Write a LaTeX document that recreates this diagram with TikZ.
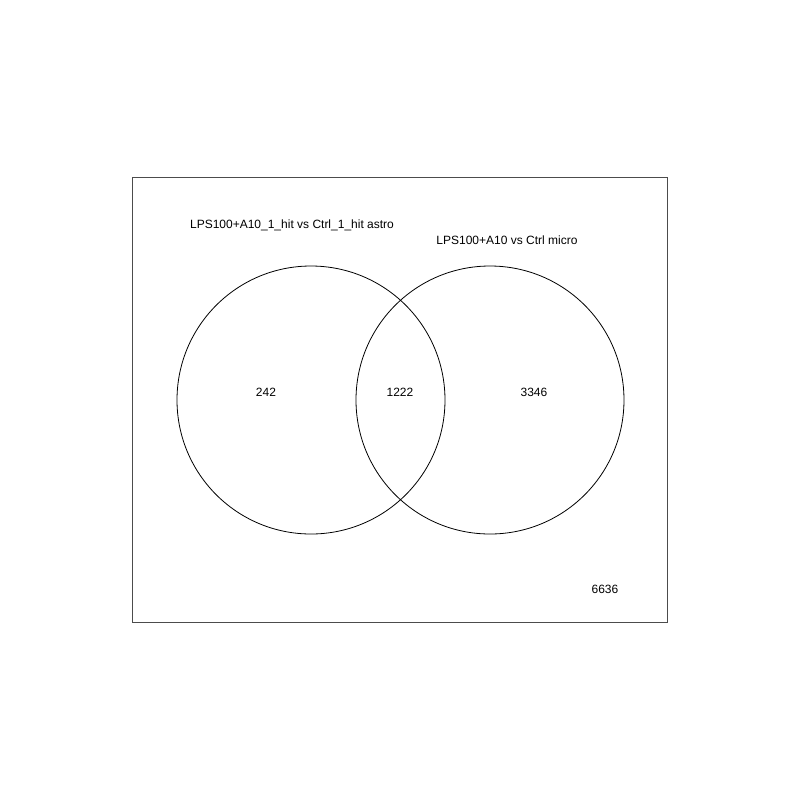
\documentclass[tikz,border=0pt]{standalone}
\usepackage{fontspec}
\setmainfont{Liberation Sans}
\begin{document}
\begin{tikzpicture}[x=0.5pt,y=-0.5pt,
  lbl/.style={font=\fontsize{6}{7}\selectfont, inner sep=0pt},
  setcirc/.style={draw=black, line width=0.4pt},
  frame/.style={draw=black!70, line width=0.5pt}]
  \useasboundingbox (0,0) rectangle (800,800);
  \draw[frame] (132,177) rectangle (667,622);
  \node[setcirc, circle, minimum size=268pt*0.5, inner sep=0pt] (astro) at (311,400) {};
  \node[setcirc, circle, minimum size=268pt*0.5, inner sep=0pt] (micro) at (490,400) {};
  \node[lbl] (la) at (292,225) {LPS100+A10\_1\_hit vs Ctrl\_1\_hit astro};
  \node[lbl] (lm) at (507,240) {LPS100+A10 vs Ctrl micro};
  \node[lbl] (na) at (266,392) {242};
  \node[lbl] (nab) at (400,392) {1222};
  \node[lbl] (nm) at (534,392) {3346};
  \node[lbl] (nout) at (605,589) {6636};
\end{tikzpicture}
\end{document}
